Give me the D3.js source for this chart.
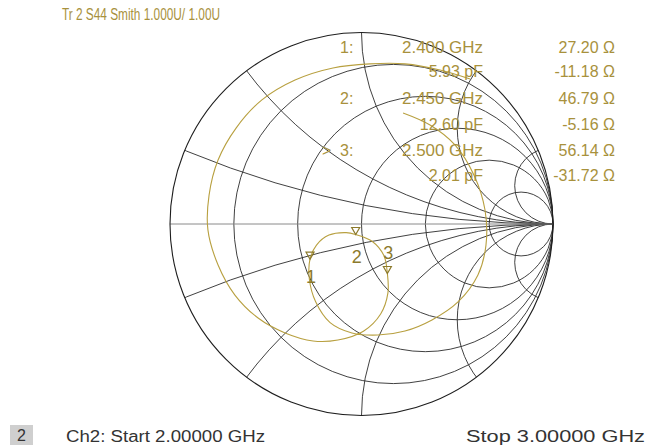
<!DOCTYPE html>
<html><head><meta charset="utf-8">
<script src="https://cdn.jsdelivr.net/npm/d3@7"></script>
<style>
html,body{margin:0;padding:0;background:#fff;}
text{font-family:"Liberation Sans",Arial,sans-serif;}
</style></head>
<body><svg id="c" width="653" height="445"></svg>
<script>
// ---- data ----
const titleText = "Tr 2  S44 Smith 1.000U/ 1.00U";
const resistanceCircles = [0.2, 0.5, 1, 2, 5];
const reactanceArcs = [0.2, 0.5, 1, 2, 5, -0.2, -0.5, -1, -2, -5];
const Z0 = 50;
// trace, reflection coefficient (real, imag), 2 GHz -> 3 GHz
const traceRe = [0.217,0.358,0.488,0.587,0.645,0.650,0.608,0.504,0.368,0.227,0.086,-0.050,-0.164,-0.240,-0.272,-0.269,-0.235,-0.170,-0.080,-0.030,0.055,0.117,0.135,0.138,0.100,0.010,-0.123,-0.253,-0.399,-0.540,-0.661,-0.749,-0.802,-0.796,-0.749,-0.655,-0.520,-0.347,-0.149,0.044,0.227,0.410,0.567];
const traceIm = [0.580,0.517,0.413,0.256,0.073,-0.110,-0.266,-0.407,-0.501,-0.559,-0.580,-0.569,-0.515,-0.405,-0.290,-0.184,-0.110,-0.058,-0.045,-0.055,-0.090,-0.165,-0.258,-0.360,-0.470,-0.560,-0.606,-0.611,-0.569,-0.491,-0.371,-0.214,-0.031,0.151,0.334,0.501,0.648,0.752,0.815,0.836,0.836,0.804,0.757];
const markerIds = ["1", "2", "3"];
const markerFreqs = ["2.400 GHz", "2.450 GHz", "2.500 GHz"];
const markerCaps = ["5.93 pF", "12.60 pF", "2.01 pF"];
const markerRs = [27.20, 46.79, 56.14];
const markerXs = [-11.18, -5.16, -31.72];
const startLabel = "Ch2:  Start  2.00000 GHz";
const stopLabel = "Stop  3.00000 GHz";
const channelLabel = "2";

// ---- layout ----
const svg = d3.select("#c");
const cx = 361.5, cy = 224, R = 191.5;
const x = d3.scaleLinear().domain([-1, 1]).range([cx - R, cx + R]);
const y = d3.scaleLinear().domain([-1, 1]).range([cy + R, cy - R]);
const k = x(1) - x(0);
const gridColor = "#2b2b2b", gold = "#a8913c";

svg.append("clipPath").attr("id", "unit").append("circle")
  .attr("cx", x(0)).attr("cy", y(0)).attr("r", k);

const grid = svg.append("g").attr("fill", "none").attr("stroke", gridColor).attr("stroke-width", 0.9);
grid.selectAll("circle.r").data(resistanceCircles).join("circle").attr("class", "r")
  .attr("cx", r => x(r / (1 + r))).attr("cy", y(0)).attr("r", r => k / (1 + r));
grid.append("g").attr("clip-path", "url(#unit)")
  .selectAll("circle").data(reactanceArcs).join("circle")
  .attr("cx", x(1)).attr("cy", v => y(1 / v)).attr("r", v => k / Math.abs(v));
svg.append("line").attr("x1", x(-1)).attr("x2", x(1)).attr("y1", y(0)).attr("y2", y(0))
  .attr("stroke", "#8a8a8a").attr("stroke-width", 1);
svg.append("circle").attr("cx", x(0)).attr("cy", y(0)).attr("r", k)
  .attr("fill", "none").attr("stroke", "#1e1e1e").attr("stroke-width", 1.1);

// trace
const pts = traceRe.map((re, i) => [re, traceIm[i]]);
svg.append("path").datum(pts)
  .attr("d", d3.line().x(d => x(d[0])).y(d => y(d[1])).curve(d3.curveCatmullRom))
  .attr("fill", "none").attr("stroke", "#b8a040").attr("stroke-width", 1.1);

// markers from impedance
function gamma(Rv, Xv) {
  const zr = Rv / Z0, zi = Xv / Z0;
  const nr = zr - 1, ni = zi, dr = zr + 1, di = zi;
  const den = dr * dr + di * di;
  return [(nr * dr + ni * di) / den, (ni * dr - nr * di) / den];
}
const mk = markerIds.map((id, i) => ({id, g: gamma(markerRs[i], markerXs[i])}));
const labelDy = [24, 28, -14];
const mg = svg.append("g");
mk.forEach((m, i) => {
  const px = x(m.g[0]), py = y(m.g[1]);
  mg.append("path").attr("d", `M${px - 4},${py - 7}L${px + 4},${py - 7}L${px},${py}Z`)
    .attr("fill", "none").attr("stroke", "#8c7a2c").attr("stroke-width", 1.2);
  mg.append("text").attr("x", px + 1).attr("y", py + labelDy[i]).attr("text-anchor", "middle")
    .attr("font-size", 18).attr("fill", "#8c7a2c").text(m.id);
});

// title
svg.append("text").attr("x", 62).attr("y", 20).attr("font-size", 16).attr("fill", gold)
  .attr("textLength", 158).attr("lengthAdjust", "spacingAndGlyphs").text(titleText);

// readout
const rowY = [47, 71, 98, 124, 150, 175];
const ro = svg.append("g").attr("font-size", 16).attr("fill", gold).attr("dominant-baseline", "central");
markerIds.forEach((id, i) => {
  const y1 = rowY[2 * i], y2 = rowY[2 * i + 1];
  ro.append("text").attr("x", 340).attr("y", y1).text(id + ":");
  ro.append("text").attr("x", 402).attr("y", y1).attr("textLength", 81).attr("lengthAdjust", "spacingAndGlyphs").text(markerFreqs[i]);
  ro.append("text").attr("x", 615).attr("y", y1).attr("text-anchor", "end").text(markerRs[i].toFixed(2) + " Ω");
  ro.append("text").attr("x", 483).attr("y", y2).attr("text-anchor", "end").text(markerCaps[i]);
  ro.append("text").attr("x", 615).attr("y", y2).attr("text-anchor", "end").text(markerXs[i].toFixed(2) + " Ω");
});
ro.append("text").attr("x", 322).attr("y", rowY[4]).text(">");

// footer
svg.append("rect").attr("x", 10).attr("y", 425).attr("width", 23).attr("height", 20).attr("fill", "#cfcfcf");
svg.append("text").attr("x", 21.5).attr("y", 441).attr("text-anchor", "middle").attr("font-size", 16).attr("fill", "#333").text(channelLabel);
svg.append("text").attr("x", 66).attr("y", 442).attr("font-size", 16).attr("fill", "#333")
  .attr("textLength", 199).attr("lengthAdjust", "spacingAndGlyphs").text(startLabel);
svg.append("text").attr("x", 645).attr("y", 442).attr("font-size", 16).attr("fill", "#333").attr("text-anchor", "end")
  .attr("textLength", 179).attr("lengthAdjust", "spacingAndGlyphs").text(stopLabel);
</script></body></html>
